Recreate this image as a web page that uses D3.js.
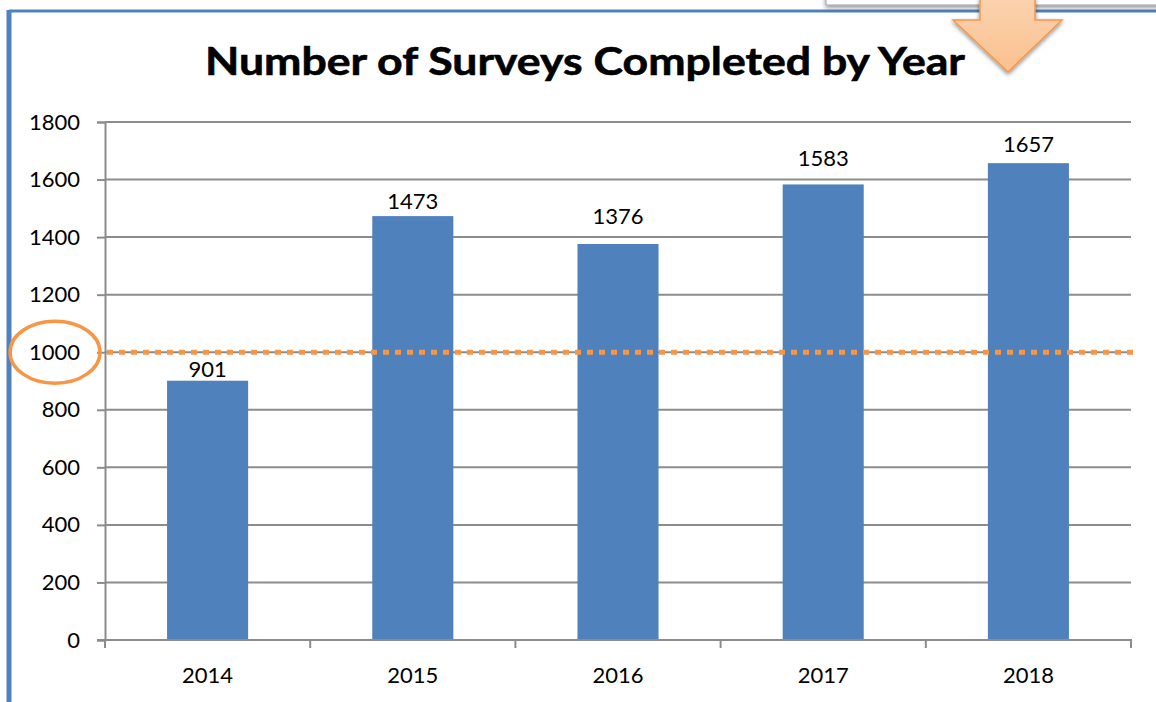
<!DOCTYPE html>
<html>
<head>
<meta charset="utf-8">
<script src="https://cdn.jsdelivr.net/npm/d3@7"></script>
<style>
  html, body { margin: 0; padding: 0; background: #ffffff; }
  svg { display: block; }
</style>
</head>
<body>
<svg id="chart" width="1156" height="702"></svg>
<script>
// Survey counts per year
const years = ["2014", "2015", "2016", "2017", "2018"];
const surveys = [901, 1473, 1376, 1583, 1657];
const yTicks = [0, 200, 400, 600, 800, 1000, 1200, 1400, 1600, 1800];
const targetValue = 1000;
const titleText = "Number of Surveys Completed by Year";

// Extra lift for each value label above its bar (px)
const labelLift = [4, 7, 20, 18, 11];

const W = 1156, H = 702;
const plot = { left: 105, right: 1131, top: 122, bottom: 640 };
const barBlue = "#4F81BD";
const orange = "#F79646";
const gridGrey = "#8c8c8c";
const numFont = "Lato, 'Open Sans', sans-serif";
const numSize = 22;

const svg = d3.select("#chart");
const defs = svg.append("defs");

// Frame around the slide panel
svg.append("line")
  .attr("x1", 9).attr("x2", W).attr("y1", 11).attr("y2", 11)
  .attr("stroke", barBlue).attr("stroke-width", 3);
svg.append("line")
  .attr("x1", 9).attr("x2", 9).attr("y1", 10).attr("y2", H)
  .attr("stroke", barBlue).attr("stroke-width", 5);

// Box at the top right with soft shadow
const shadow = defs.append("filter").attr("id", "shadow")
  .attr("x", "-20%").attr("y", "-50%").attr("width", "140%").attr("height", "250%");
shadow.append("feGaussianBlur").attr("in", "SourceAlpha").attr("stdDeviation", 2.2);
shadow.append("feOffset").attr("dx", 0).attr("dy", 2).attr("result", "o");
shadow.append("feFlood").attr("flood-color", "#000").attr("flood-opacity", 0.45);
shadow.append("feComposite").attr("in2", "o").attr("operator", "in");
const sm = shadow.append("feMerge");
sm.append("feMergeNode");
sm.append("feMergeNode").attr("in", "SourceGraphic");

svg.append("rect")
  .attr("x", 826).attr("y", -20).attr("width", 360).attr("height", 25)
  .attr("fill", "#ffffff").attr("stroke", "#a0a0a0").attr("stroke-width", 1)
  .attr("filter", "url(#shadow)");

// Title
svg.append("text")
  .attr("x", 585).attr("y", 75)
  .attr("text-anchor", "middle")
  .attr("font-family", "Lato, 'Open Sans', sans-serif")
  .attr("font-weight", "bold")
  .attr("font-size", 39)
  .attr("fill", "#000")
  .attr("stroke", "#000").attr("stroke-width", 0.6)
  .attr("textLength", 760)
  .attr("lengthAdjust", "spacingAndGlyphs")
  .text(titleText);

// Scales
const x = d3.scaleBand().domain(years).range([plot.left, plot.right]).paddingInner(0).paddingOuter(0);
const y = d3.scaleLinear().domain([0, 1800]).range([plot.bottom, plot.top]);
const barW = x.bandwidth() * 0.395;

// Horizontal gridlines
svg.append("g")
  .selectAll("line").data(yTicks.filter(d => d > 0)).join("line")
  .attr("x1", plot.left).attr("x2", plot.right)
  .attr("y1", d => y(d)).attr("y2", d => y(d))
  .attr("stroke", gridGrey).attr("stroke-width", 2);

// Y axis
const yAxis = d3.axisLeft(y).tickValues(yTicks).tickSize(8).tickPadding(17).tickFormat(d3.format("d"));
const gy = svg.append("g").attr("transform", `translate(${plot.left},0)`).call(yAxis);
gy.select(".domain").attr("stroke", gridGrey).attr("stroke-width", 2);
gy.selectAll(".tick line").attr("stroke", gridGrey).attr("stroke-width", 2);
gy.selectAll(".tick text")
  .attr("font-family", numFont).attr("font-size", numSize).attr("fill", "#000");

// Bars
svg.append("g")
  .selectAll("rect").data(years).join("rect")
  .attr("x", (d) => x(d) + (x.bandwidth() - barW) / 2)
  .attr("y", (d, i) => y(surveys[i]))
  .attr("width", barW)
  .attr("height", (d, i) => y(0) - y(surveys[i]))
  .attr("fill", barBlue);

// X axis with ticks between categories
const gx = svg.append("g").attr("transform", `translate(0,${plot.bottom})`);
gx.append("line")
  .attr("x1", plot.left - 8).attr("x2", plot.right + 1)
  .attr("y1", 0).attr("y2", 0)
  .attr("stroke", gridGrey).attr("stroke-width", 2);
const boundaries = years.map(d => x(d)).concat([x(years[years.length - 1]) + x.bandwidth()]);
gx.selectAll("line.tk").data(boundaries).join("line").attr("class", "tk")
  .attr("x1", d => d).attr("x2", d => d).attr("y1", 0).attr("y2", 8)
  .attr("stroke", gridGrey).attr("stroke-width", 2);
gx.selectAll("text").data(years).join("text")
  .attr("x", d => x(d) + x.bandwidth() / 2)
  .attr("y", 43)
  .attr("text-anchor", "middle")
  .attr("font-family", numFont).attr("font-size", numSize).attr("fill", "#000")
  .text(d => d);

// Value labels
svg.append("g")
  .selectAll("text").data(years).join("text")
  .attr("x", d => x(d) + x.bandwidth() / 2)
  .attr("y", (d, i) => y(surveys[i]) - labelLift[i])
  .attr("text-anchor", "middle")
  .attr("font-family", numFont).attr("font-size", numSize).attr("fill", "#000")
  .text((d, i) => surveys[i]);

// Target line at 1000
svg.append("line")
  .attr("x1", plot.left + 2).attr("x2", plot.right + 3)
  .attr("y1", y(targetValue)).attr("y2", y(targetValue))
  .attr("stroke", orange).attr("stroke-width", 5)
  .attr("stroke-dasharray", "6 6");

// Circle around the 1000 tick label
svg.append("ellipse")
  .attr("cx", 55).attr("cy", y(targetValue))
  .attr("rx", 45).attr("ry", 31)
  .attr("fill", "none").attr("stroke", orange).attr("stroke-width", 3.5);

// Down arrow at the top
const grad = defs.append("linearGradient").attr("id", "arrowGrad")
  .attr("x1", 0).attr("y1", 0).attr("x2", 0).attr("y2", 1);
grad.append("stop").attr("offset", "0%").attr("stop-color", "#FBD3AE");
grad.append("stop").attr("offset", "100%").attr("stop-color", "#FAC08F");

const arrowPts = [[980, -2], [1035, -2], [1035, 20], [1062, 20], [1008, 72], [953, 20], [980, 20]];
svg.append("path")
  .attr("d", d3.line()(arrowPts) + "Z")
  .attr("fill", "url(#arrowGrad)")
  .attr("stroke", orange).attr("stroke-width", 1.5)
  .attr("stroke-linejoin", "miter")
  .attr("filter", "url(#shadow)");
</script>
</body>
</html>
